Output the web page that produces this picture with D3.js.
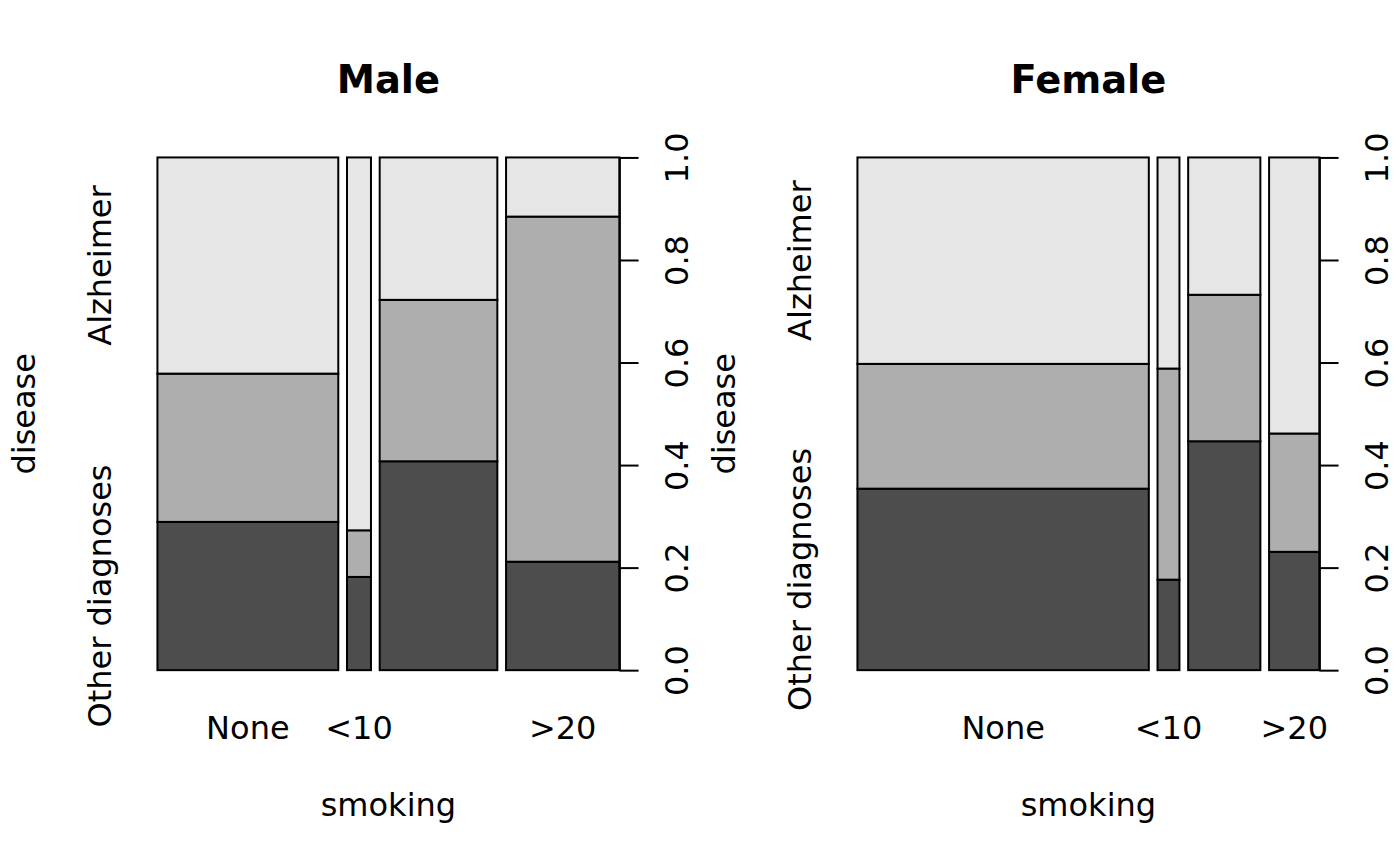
<!DOCTYPE html>
<html>
<head>
<meta charset="utf-8">
<script src="https://cdn.jsdelivr.net/npm/d3@7"></script>
<style>
  body { margin: 0; background: #fff; }
  text { font-family: "DejaVu Sans", sans-serif; fill: #000; }
</style>
</head>
<body>
<div id="wrapper"></div>
<script>
// categories
const smokingLevels = ["None", "<10", "10-20", ">20"];
const diseaseLevels = ["Other diagnoses", "Other dementias", "Alzheimer"]; // bottom to top
const yTicks = [0, 0.2, 0.4, 0.6, 0.8, 1.0];

// counts per smoking level
const maleOtherDiagnoses = [24, 2, 22, 11];
const maleOtherDementias = [24, 1, 17, 35];
const maleAlzheimer = [35, 8, 15, 6];

const femaleOtherDiagnoses = [80, 3, 25, 9];
const femaleOtherDementias = [55, 7, 16, 9];
const femaleAlzheimer = [91, 7, 15, 21];

const fills = ["#4D4D4D", "#AEAEAE", "#E6E6E6"];

const width = 1400, height = 866;
const LH = 38.4;      // one margin line
const FS = 32;        // base font size
const off = 0.02;     // gap between bars

const svg = d3.select("#wrapper")
    .append("svg")
    .attr("width", width)
    .attr("height", height);

// skip labels that would overlap the last one drawn (like R's axis)
function placeLabels(sel, pos, gap) {
    let lastEnd = -Infinity;
    sel.each(function(d, i) {
        const w = this.getComputedTextLength();
        const lo = pos[i] - w / 2, hi = pos[i] + w / 2;
        if (lo < lastEnd + gap) {
            d3.select(this).remove();
        } else {
            lastEnd = hi;
        }
    });
}

function drawPanel(index, title, series) {
    const left = index * 700 + 4.1 * LH;
    const right = index * 700 + 700 - 2.1 * LH;
    const top = 4.1 * LH;
    const bottom = height - 5.1 * LH;

    const totals = smokingLevels.map((s, i) => d3.sum(series, a => a[i]));
    const n = d3.sum(totals);
    const widths = totals.map(t => t / n);
    const x0s = [];
    let acc = 0;
    widths.forEach(w => { x0s.push(acc); acc += w + off; });

    const xScaler = d3.scaleLinear()
        .domain([0, 1 + off * (smokingLevels.length - 1)])
        .range([left, right]);
    const yScaler = d3.scaleLinear()
        .domain([0, 1])
        .range([bottom, top]);

    const g = svg.append("g");

    // stacked proportion cells
    const cells = [];
    smokingLevels.forEach((s, i) => {
        let cum = 0;
        series.forEach((a, k) => {
            const p = a[i] / totals[i];
            cells.push({ x0: x0s[i], x1: x0s[i] + widths[i], y0: cum, y1: cum + p, k: k });
            cum += p;
        });
    });

    g.selectAll("rect")
        .data(cells)
        .enter()
        .append("rect")
        .attr("x", d => xScaler(d.x0))
        .attr("y", d => yScaler(d.y1))
        .attr("width", d => xScaler(d.x1) - xScaler(d.x0))
        .attr("height", d => yScaler(d.y0) - yScaler(d.y1))
        .attr("fill", d => fills[d.k])
        .attr("stroke", "#000")
        .attr("stroke-width", 2);

    // right axis
    const yAxisGen = d3.axisRight(yScaler)
        .tickValues(yTicks)
        .tickFormat(d3.format(".1f"))
        .tickSize(0.5 * LH)
        .tickSizeOuter(0);
    const yAxis = g.append("g")
        .attr("transform", `translate(${right},0)`)
        .call(yAxisGen);
    yAxis.select(".domain").attr("stroke", "#000").attr("stroke-width", 2);
    yAxis.selectAll(".tick line").attr("stroke", "#000").attr("stroke-width", 2);
    yAxis.selectAll(".tick text")
        .attr("x", null).attr("dy", null)
        .attr("transform", `translate(${1.8 * LH},0) rotate(-90)`)
        .attr("text-anchor", "middle")
        .attr("font-family", "DejaVu Sans")
        .attr("font-size", FS)
        .attr("fill", "#000");

    const mWidth = FS * 0.974;

    // x category labels at bar centres
    const xPos = smokingLevels.map((s, i) => xScaler(x0s[i] + widths[i] / 2));
    const xLabels = g.append("g").selectAll("text")
        .data(smokingLevels)
        .enter()
        .append("text")
        .attr("x", (d, i) => xPos[i])
        .attr("y", bottom + 1.8 * LH)
        .attr("text-anchor", "middle")
        .attr("font-size", FS)
        .text(d => d);
    placeLabels(xLabels, xPos, mWidth);

    // y category labels at the first bar's cell centres
    const firstCells = cells.filter(c => c.x0 === 0);
    const yPos = firstCells.map(c => yScaler((c.y0 + c.y1) / 2));
    const yLabels = g.append("g").selectAll("text")
        .data(diseaseLevels)
        .enter()
        .append("text")
        .attr("transform", (d, i) => `translate(${left - 1.2 * LH},${yPos[i]}) rotate(-90)`)
        .attr("text-anchor", "middle")
        .attr("font-size", FS)
        .text(d => d);
    placeLabels(yLabels, yPos.map(p => -p), mWidth);

    // titles
    g.append("text")
        .attr("x", (left + right) / 2)
        .attr("y", top - 1.68 * LH)
        .attr("text-anchor", "middle")
        .attr("font-size", FS * 1.2)
        .attr("font-weight", "bold")
        .text(title);

    g.append("text")
        .attr("x", (left + right) / 2)
        .attr("y", bottom + 3.8 * LH)
        .attr("text-anchor", "middle")
        .attr("font-size", FS)
        .text("smoking");

    g.append("text")
        .attr("transform", `translate(${left - 3.2 * LH},${(top + bottom) / 2}) rotate(-90)`)
        .attr("text-anchor", "middle")
        .attr("font-size", FS)
        .text("disease");
}

drawPanel(0, "Male", [maleOtherDiagnoses, maleOtherDementias, maleAlzheimer]);
drawPanel(1, "Female", [femaleOtherDiagnoses, femaleOtherDementias, femaleAlzheimer]);
</script>
</body>
</html>
